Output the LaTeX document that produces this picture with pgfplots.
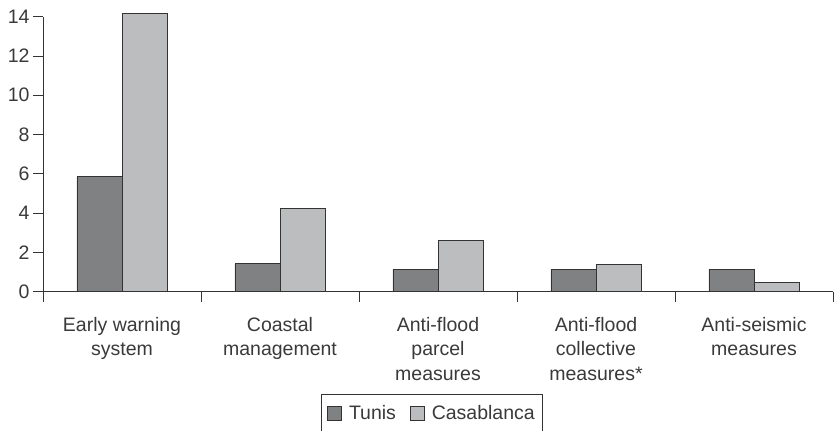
\documentclass[border=0pt]{standalone}
\usepackage{fontspec}
\setmainfont{Liberation Sans}
\usepackage{pgfplots}
\pgfplotsset{compat=1.18}
\definecolor{txt}{HTML}{3A3A3A}
\definecolor{tunis}{HTML}{808183}
\definecolor{casa}{HTML}{BCBDBF}
\definecolor{edge}{HTML}{333333}
\begin{document}
\begin{tikzpicture}
\begin{axis}[
  at={(0,0)}, anchor=south west,
  scale only axis, width=790bp, height=275bp,
  xmin=0, xmax=5, ymin=0, ymax=14,
  clip=false,
  axis x line*=bottom, axis y line*=left,
  axis line style={edge, line width=0.8bp, -},
  ybar=0pt, bar width=0.285,
  xtick={0,...,5}, x tick label as interval,
  xticklabels={{Early warning\\system},{Coastal\\management},{Anti-flood\\parcel\\measures},{Anti-flood\\collective\\measures*},{Anti-seismic\\measures}},
  xticklabel style={align=center, yshift=-12bp},
  ytick={0,2,...,14},
  tick align=outside, major tick length=10bp,
  tick style={edge, line width=0.8bp},
  tick label style={font=\fontsize{19.5bp}{24.5bp}\selectfont, text=txt},
  /pgf/number format/assume math mode=true,
  legend style={at={(axis description cs:0.4924,-0.372)}, anchor=north,
    legend columns=2, draw=edge, line width=0.8bp,
    font=\fontsize{19.5bp}{24bp}\selectfont, text=txt,
    inner xsep=6bp, inner ysep=9bp,
    /tikz/every even column/.append style={column sep=12bp}},
  legend image code/.code={\draw[#1, draw=edge, line width=0.8bp] (0bp,-7bp) rectangle (14bp,7bp); \path (19bp,0bp);},
]
\addplot[fill=tunis, draw=edge, line width=0.8bp] coordinates {(0.5,5.85) (1.5,1.43) (2.5,1.14) (3.5,1.14) (4.5,1.14)};
\addplot[fill=casa, draw=edge, line width=0.8bp] coordinates {(0.5,14.15) (1.5,4.23) (2.5,2.63) (3.5,1.41) (4.5,0.46)};
\legend{Tunis, Casablanca}
\end{axis}
\pgfresetboundingbox
\path (-43bp,-139.3bp) rectangle (791bp,291.7bp);
\end{tikzpicture}
\end{document}
